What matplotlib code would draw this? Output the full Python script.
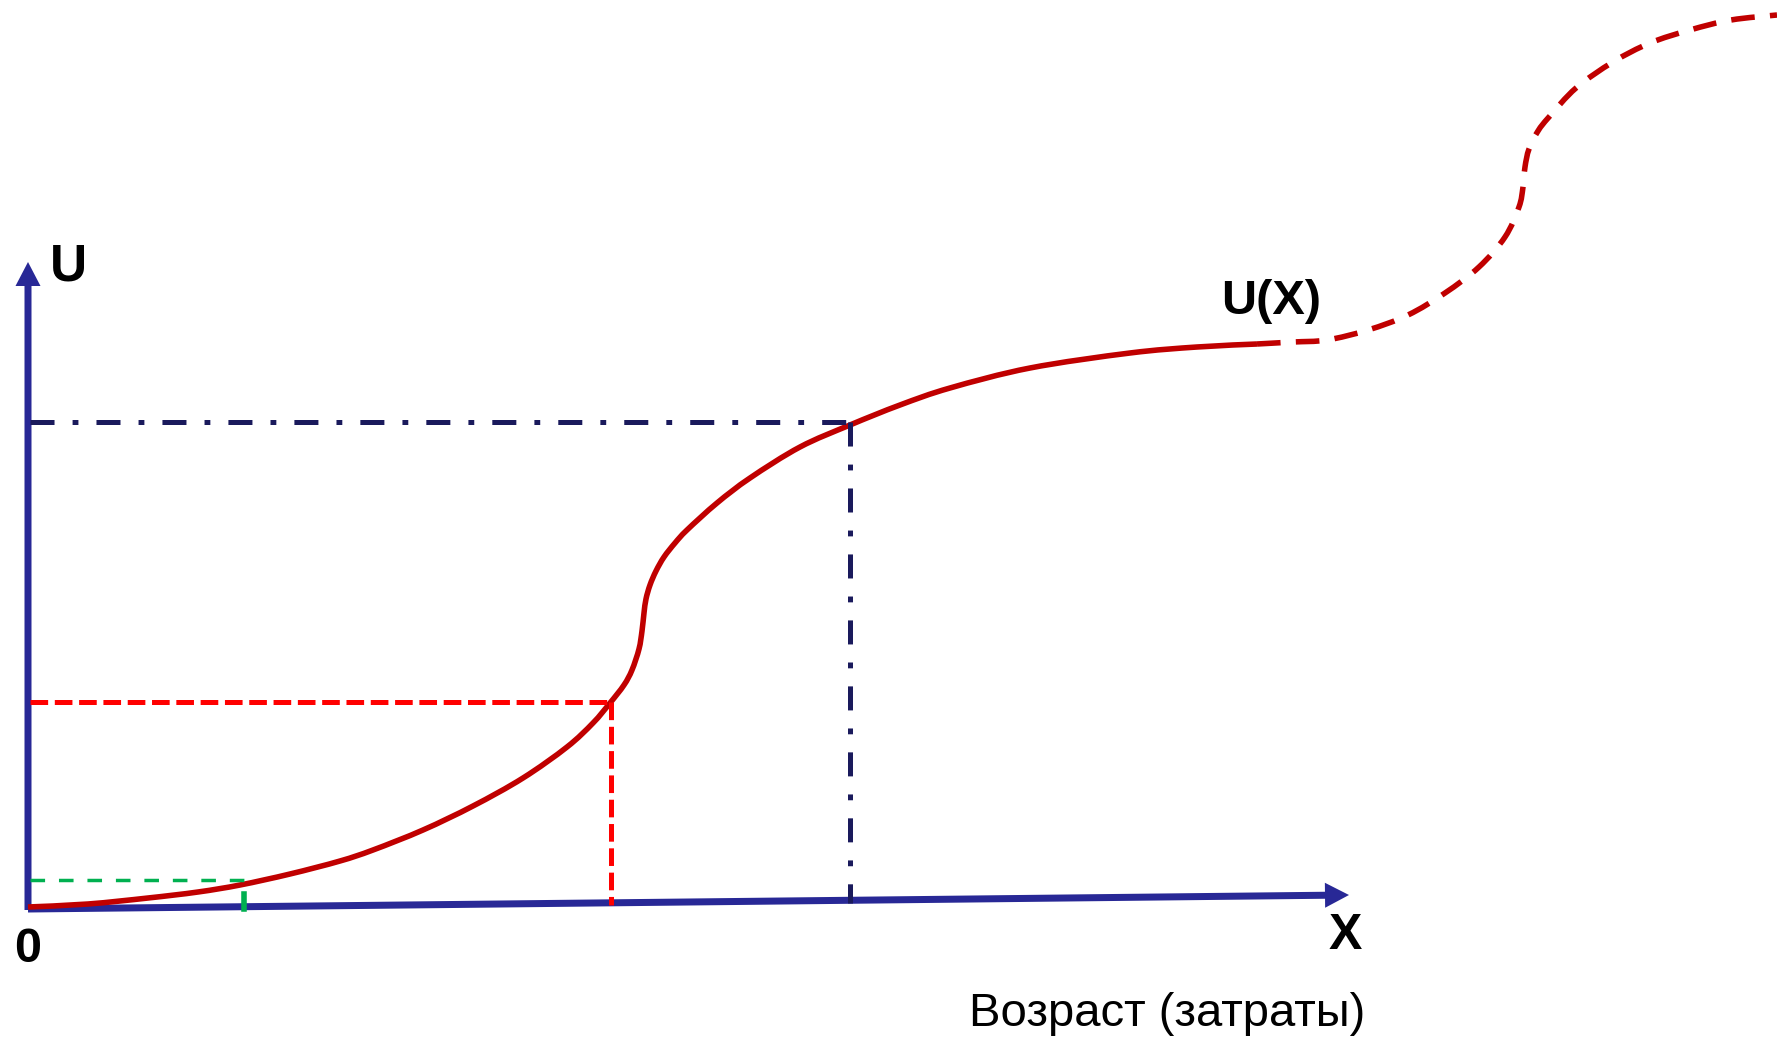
import matplotlib
matplotlib.use('Agg')
import matplotlib.pyplot as plt
from matplotlib.path import Path
from matplotlib.patches import PathPatch

plt.rcParams['font.family'] = ['Liberation Sans', 'DejaVu Sans']
plt.rcParams['lines.scale_dashes'] = False

# utility curve U(X), solid part (units: pixels from the origin)
u_x = [0, 60, 120, 170, 212, 262, 312, 345, 395, 445, 495, 539, 565, 582,
       596, 604, 611, 614, 616, 618, 622, 628, 636, 647, 659, 689, 722, 772,
       822, 872, 922, 1002, 1102, 1169, 1229]
u_y = [0, 3, 9, 15, 22, 33, 46, 57, 77, 101, 129, 160, 184, 204,
       222, 237, 258, 276, 294, 308, 322, 336, 350, 364, 377, 404, 429, 460,
       482, 502, 519, 539, 554, 560, 563]

# continuation (dashed)
ext_x = [1229, 1265, 1299, 1340, 1380, 1417, 1451, 1477, 1491, 1495, 1497,
         1501, 1510, 1521, 1548, 1585, 1622, 1662, 1703, 1749]
ext_y = [563, 565, 567, 577, 592, 614, 640, 670, 700, 720, 740,
         758, 776, 790, 819, 845, 864, 877, 887, 892]

# projections onto the axes
green_pt = (216, 27)
red_pt = (583, 205)
navy_pt = (822, 485)

x_axis = [(0, -2), (1321, 12)]
y_axis = [(0, -3), (0, 645)]


def smooth_path(xs, ys):
    # Catmull-Rom through the read points, drawn as cubic Bezier segments
    pts = list(zip(xs, ys))
    verts = [pts[0]]
    codes = [Path.MOVETO]
    n = len(pts)
    for i in range(n - 1):
        p0 = pts[max(i - 1, 0)]
        p1 = pts[i]
        p2 = pts[i + 1]
        p3 = pts[min(i + 2, n - 1)]
        c1 = (p1[0] + (p2[0] - p0[0]) / 6, p1[1] + (p2[1] - p0[1]) / 6)
        c2 = (p2[0] - (p3[0] - p1[0]) / 6, p2[1] - (p3[1] - p1[1]) / 6)
        verts += [c1, c2, p2]
        codes += [Path.CURVE4] * 3
    return Path(verts, codes)


fig = plt.figure(figsize=(17.77, 10.42), dpi=100)
ax = fig.add_axes([0, 0, 1, 1])
ax.set_xlim(-28, 1749)
ax.set_ylim(-135, 907)
ax.axis('off')

axis_col = '#282896'
navy = '#1A1A5C'

# projection lines
ax.plot([2, green_pt[0]], [green_pt[1], green_pt[1]], color='#00B050', lw=2.5,
        dashes=(10.5, 10))
ax.plot([green_pt[0], green_pt[0]], [-2, 13], color='#00B050', lw=4.0)
ax.plot([2, red_pt[0]], [red_pt[1], red_pt[1]], color='#FF0000', lw=3.6,
        dashes=(12.7, 4.8))
ax.plot([red_pt[0], red_pt[0]], [red_pt[1], 2], color='#FF0000', lw=3.6,
        dashes=(12.7, 4.8))
ax.plot([2, navy_pt[0]], [navy_pt[1], navy_pt[1]], color=navy, lw=3.6,
        dashes=(17.3, 13, 4.2, 13))
ax.plot([navy_pt[0], navy_pt[0]], [navy_pt[1], 4], color=navy, lw=3.6,
        dashes=(17.3, 13, 4.2, 13))

# axes with arrows
for (x0, y0), (x1, y1) in (x_axis, y_axis):
    ax.arrow(x0, y0, x1 - x0, y1 - y0, width=7, head_width=25, head_length=24,
             length_includes_head=True, color=axis_col, lw=0)

# the curve
ax.add_patch(PathPatch(smooth_path(u_x, u_y), fill=False, edgecolor='#C00000',
                       lw=4.0, capstyle='butt'))
ax.add_patch(PathPatch(smooth_path(ext_x, ext_y), fill=False, edgecolor='#C00000',
                       lw=4.0, linestyle=(0, (17, 11)), capstyle='butt'))

ax.text(22, 640, 'U', fontsize=37, fontweight='bold', ha='left', va='center')
ax.text(0, -43, '0', fontsize=35, fontweight='bold', ha='center', va='center')
ax.text(1317, -29, 'X', fontsize=36, fontweight='bold', ha='center', va='center')
ax.text(1243, 606, 'U(X)', fontsize=35, fontweight='bold', ha='center', va='center')
ax.text(1139, -107, 'Возраст (затраты)', fontsize=34, ha='center', va='center')

fig.savefig('out.png', dpi=100)
